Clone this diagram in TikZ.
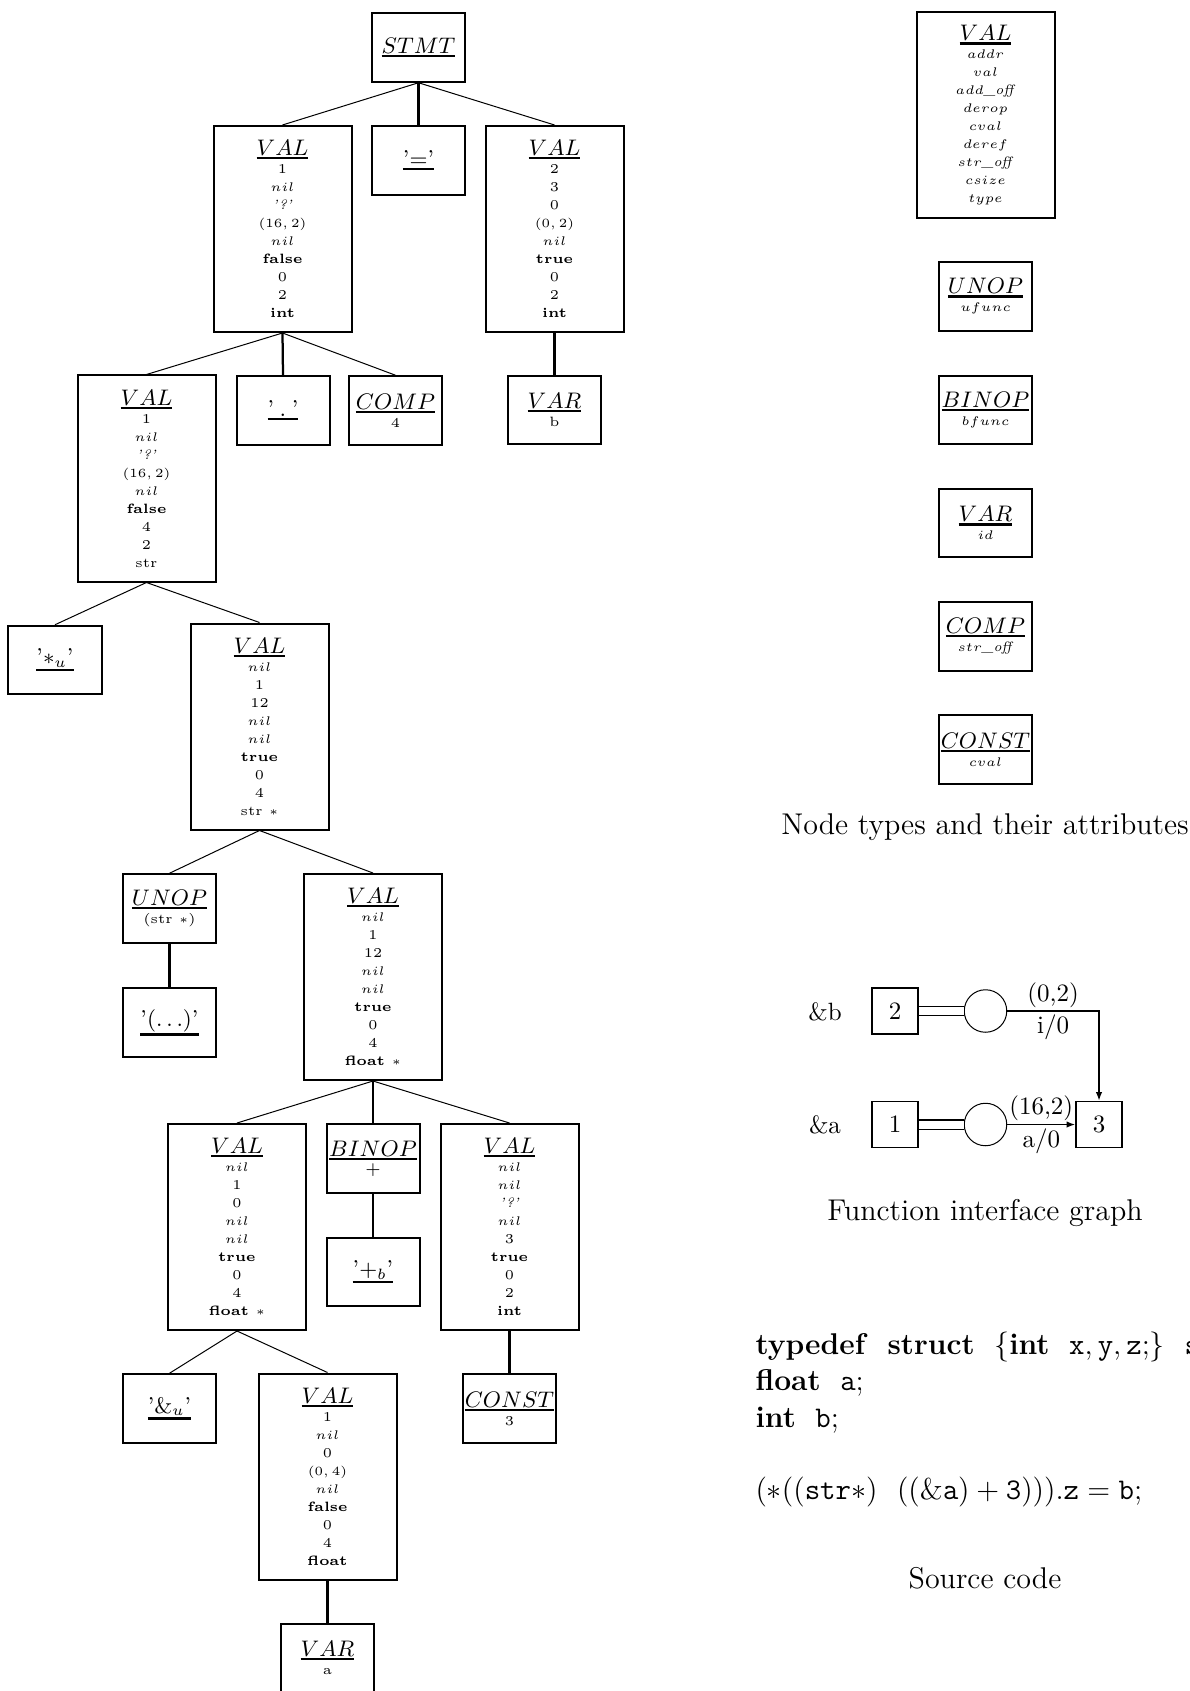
\documentclass[tikz,border=0pt]{standalone}
\usepackage{tikz}
\usetikzlibrary{arrows.meta,positioning}
\newsavebox{\astheadbox}
\newcommand{\asthead}[1]{\sbox{\astheadbox}{\fontsize{9.2}{11}\selectfont #1}\vtop{\copy\astheadbox\kern0.6pt\hrule height 0.9pt}}
\tikzset{%
  % boxes
  astbox/.style={draw, line width=0.8pt, inner sep=0pt, align=center, font=\fontsize{5.4}{7.2}\selectfont},
  valbox/.style={astbox, minimum width=55.2pt, minimum height=82.4pt},
  opbox/.style={astbox, minimum width=37.2pt, minimum height=27.4pt},
  % edge styles
  branch/.style={line width=0.4pt},
  stem/.style={line width=0.9pt},
  % interface graph
  cell/.style={draw, line width=0.6pt, minimum size=18.4pt, inner sep=0pt, font=\fontsize{10}{12}\selectfont},
  slot/.style={draw, circle, line width=0.4pt, minimum size=17pt, inner sep=0pt},
  link/.style={double, double distance=3.2pt, line width=0.5pt},
  flow/.style={-{Latex[length=3.5pt,width=2.6pt]}, line width=0.6pt},
  tag/.style={inner sep=1.2pt, font=\fontsize{10}{12}\selectfont},
  arg/.style={inner sep=0pt, anchor=base, font=\fontsize{10}{12}\selectfont},
  caption/.style={inner sep=0pt, anchor=base, font=\fontsize{12}{14}\selectfont},
  code/.style={inner sep=0pt, anchor=base west, font=\fontsize{12}{14.5}\selectfont},
}
\newcommand{\astnode}[5][]{%
  % #1 = extra TikZ options
  % #2 = class (valbox | opbox)
  % #3 = node name
  % #4 = header
  % #5 = attribute lines
  \node[#2, #1] (#3) {\asthead{#4}\\#5};
}

\begin{document}
\begin{tikzpicture}[x=0.4pt, y=-0.4pt]
  \useasboundingbox (0,0) rectangle (1189,1691);
  \clip (0,0) rectangle (1189,1691);

  % Statement tree
  \node[opbox, at={(418.5,47.5)}] (stmt) {\asthead{$STMT$}};
  \astnode[at={(282.5,229)}]{valbox}{lhs}{$VAL$}{1\\$nil$\\\textit{'?'}\\$(16,2)$\\$nil$\\\textbf{false}\\0\\2\\\textbf{int}};
  \node[opbox, at={(418.5,160.5)}] (assign) {\asthead{'$=$'}};
  \astnode[at={(554.5,229)}]{valbox}{rhs}{$VAL$}{2\\3\\0\\$(0,2)$\\$nil$\\\textbf{true}\\0\\2\\\textbf{int}};

  \astnode[at={(146.5,478.5)}]{valbox}{comp_val}{$VAL$}{1\\$nil$\\\textit{'?'}\\$(16,2)$\\$nil$\\\textbf{false}\\4\\2\\str};
  \node[opbox, at={(283,410.5)}] (dot) {\asthead{'\hspace{2.2pt}.\hspace{2.2pt}'}};
  \astnode[at={(395.5,410.5)}]{opbox}{comp}{$COMP$}{4};
  \astnode[at={(554.5,410)}]{opbox}{var_b}{$VAR$}{b};

  \node[opbox, at={(55,660)}] (deref_op) {\asthead{'$*_u$'}};
  \astnode[at={(259.5,726.5)}]{valbox}{cast_val}{$VAL$}{$nil$\\1\\12\\$nil$\\$nil$\\\textbf{true}\\0\\4\\str $*$};

  \astnode[at={(169.5,908.5)}]{opbox}{unop}{$UNOP$}{(str $*$)};
  \node[opbox, at={(169.5,1022.5)}] (paren) {\asthead{'$(\ldots)$'}};
  \astnode[at={(373,977)}]{valbox}{sum_val}{$VAL$}{$nil$\\1\\12\\$nil$\\$nil$\\\textbf{true}\\0\\4\\\textbf{float $*$}};

  \astnode[at={(237,1227)}]{valbox}{ptr_val}{$VAL$}{$nil$\\1\\0\\$nil$\\$nil$\\\textbf{true}\\0\\4\\\textbf{float $*$}};
  \astnode[at={(373,1158.5)}]{opbox}{binop}{$BINOP$}{{\fontsize{7}{8}\selectfont$+$}};
  \node[opbox, at={(373,1272)}] (plus_op) {\asthead{'$+_b$'}};
  \astnode[at={(509.5,1227)}]{valbox}{const_val}{$VAL$}{$nil$\\$nil$\\\textit{'?'}\\$nil$\\3\\\textbf{true}\\0\\2\\\textbf{int}};

  \node[opbox, at={(169.5,1408.5)}] (addr_op) {\asthead{'$\&_u$'}};
  \astnode[at={(327.5,1476.5)}]{valbox}{a_val}{$VAL$}{1\\$nil$\\0\\$(0,4)$\\$nil$\\\textbf{false}\\0\\4\\\textbf{float}};
  \astnode[at={(509.5,1408.5)}]{opbox}{const}{$CONST$}{3};
  \astnode[at={(327.5,1658)}]{opbox}{var_a}{$VAR$}{a};

  % Tree edges
  \draw[branch] (stmt.south) -- (lhs.north);
  \draw[stem] (stmt.south) -- (assign.north);
  \draw[branch] (stmt.south) -- (rhs.north);
  \draw[branch] (lhs.south) -- (comp_val.north);
  \draw[stem] (lhs.south) -- (dot.north);
  \draw[branch] (lhs.south) -- (comp.north);
  \draw[stem] (rhs.south) -- (var_b.north);
  \draw[branch] (comp_val.south) -- (deref_op.north);
  \draw[branch] (comp_val.south) -- (cast_val.north);
  \draw[branch] (cast_val.south) -- (unop.north);
  \draw[branch] (cast_val.south) -- (sum_val.north);
  \draw[stem] (unop.south) -- (paren.north);
  \draw[branch] (sum_val.south) -- (ptr_val.north);
  \draw[stem] (sum_val.south) -- (binop.north);
  \draw[branch] (sum_val.south) -- (const_val.north);
  \draw[stem] (binop.south) -- (plus_op.north);
  \draw[branch] (ptr_val.south) -- (addr_op.north);
  \draw[branch] (ptr_val.south) -- (a_val.north);
  \draw[stem] (const_val.south) -- (const.north);
  \draw[stem] (a_val.south) -- (var_a.north);

  % Node types
  \astnode[at={(985.5,115.5)}]{valbox}{key_val}{$VAL$}{$addr$\\$val$\\$add$\textit{\_off}\\$derop$\\$cval$\\$deref$\\$str$\textit{\_off}\\$csize$\\$type$};
  \astnode[at={(985.5,296.5)}]{opbox}{key_unop}{$UNOP$}{$ufunc$};
  \astnode[at={(985.5,409.8)}]{opbox}{key_binop}{$BINOP$}{$bfunc$};
  \astnode[at={(985.5,523.1)}]{opbox}{key_var}{$VAR$}{$id$};
  \astnode[at={(985.5,636.4)}]{opbox}{key_comp}{$COMP$}{$str$\textit{\_off}};
  \astnode[at={(985.5,749.7)}]{opbox}{key_const}{$CONST$}{$cval$};
  \node[caption, at={(985,834)}] (key_caption) {Node types and their attributes};

  % Function interface graph
  \node[arg, at={(825,1020)}] (arg_b) {\&b};
  \node[arg, at={(825,1133)}] (arg_a) {\&a};
  \node[cell, at={(895,1011)}] (cell_b) {2};
  \node[slot, at={(985.5,1011)}] (slot_b) {};
  \node[cell, at={(895,1124.5)}] (cell_a) {1};
  \node[slot, at={(985.5,1124.5)}] (slot_a) {};
  \node[cell, at={(1099,1124.5)}] (cell_res) {3};
  \draw[link] (cell_b) -- (slot_b);
  \draw[link] (cell_a) -- (slot_a);
  \draw[flow] (slot_b) -| node[tag, pos=0.25, above] {(0,2)} node[tag, pos=0.25, below] {i/0} (cell_res);
  \draw[flow] (slot_a) -- node[tag, above] {(16,2)} node[tag, below] {a/0} (cell_res);
  \node[caption, at={(985,1220)}] (graph_caption) {Function interface graph};

  % Source code
  \node[code, at={(755,1354)}] (code_type) {\textbf{typedef\ \ struct}\ \ $\{\mbox{\bfseries int}\ \ \mathtt{x,y,z;}\}$\ \ \texttt{str;}};
  \node[code, at={(755,1390)}] (code_a) {\textbf{float}\ \ \texttt{a};};
  \node[code, at={(755,1427)}] (code_b) {\textbf{int}\ \ \texttt{b};};
  \node[code, at={(755,1499)}] (code_expr) {$(*((\mathtt{str}*)\ \ ((\&\mathtt{a})+\mathtt{3}))).\mathtt{z}=\mathtt{b};$};
  \node[caption, at={(985,1588)}] (code_caption) {Source code};

\end{tikzpicture}
\end{document}
